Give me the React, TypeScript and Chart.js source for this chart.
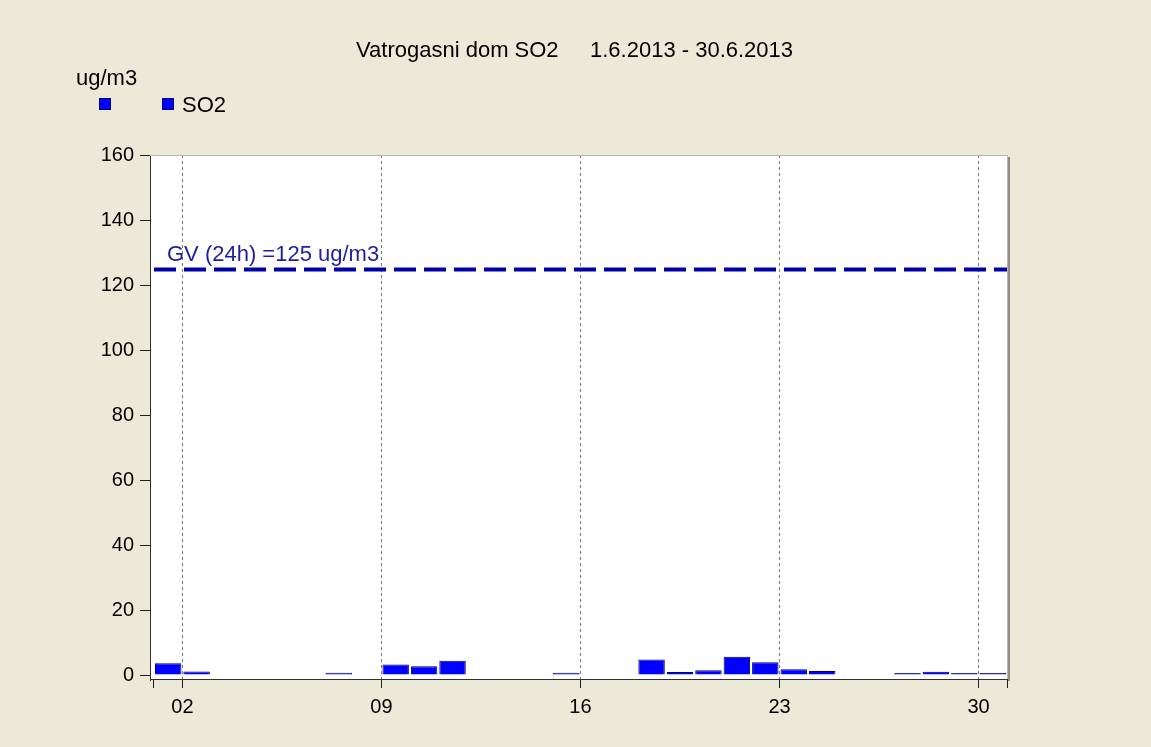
import React, { useEffect, useRef } from 'react';
import { Chart, registerables } from 'chart.js';

Chart.register(...registerables);

const titleText = 'Vatrogasni dom SO2';
const periodText = '1.6.2013 - 30.6.2013';
const unitLabel = 'ug/m3';
const seriesName = 'SO2';
const days = [1, 2, 7, 9, 10, 11, 15, 18, 19, 20, 21, 22, 23, 24, 27, 28, 29, 30];
const so2Values = [3.6, 1.1, 0.7, 3.2, 2.7, 4.4, 0.7, 4.8, 0.9, 1.5, 5.6, 3.9, 1.8, 1.2, 0.6, 1.0, 0.6, 0.6];
const xTickDays = [2, 9, 16, 23, 30];
const xEdgeDays = [1, 31];
const yTicks = [0, 20, 40, 60, 80, 100, 120, 140, 160];
const limitValue = 125;
const limitLabel = 'GV (24h) =125 ug/m3';

const FONT = "'Liberation Sans', Arial, sans-serif";

const decorPlugin = {
  id: 'decor',
  beforeDraw(chart: any) {
    const { ctx, chartArea: a } = chart;
    ctx.save();
    ctx.fillStyle = '#ECE9D8';
    ctx.fillRect(0, 0, chart.width, chart.height);
    ctx.fillStyle = '#FFFFFF';
    ctx.fillRect(a.left, a.top, a.right - a.left, a.bottom - a.top);
    ctx.restore();
  },
  afterDraw(chart: any) {
    const { ctx, chartArea: a } = chart;
    ctx.save();
    // frame
    ctx.lineWidth = 1;
    ctx.strokeStyle = '#B8B8B0';
    ctx.beginPath();
    ctx.moveTo(a.left, a.top + 0.5);
    ctx.lineTo(a.right, a.top + 0.5);
    ctx.moveTo(a.right - 0.5, a.top);
    ctx.lineTo(a.right - 0.5, a.bottom);
    ctx.stroke();
    ctx.strokeStyle = '#8E8E88';
    ctx.lineWidth = 2;
    ctx.beginPath();
    ctx.moveTo(a.right + 1, a.top + 2);
    ctx.lineTo(a.right + 1, a.bottom + 1);
    ctx.stroke();
    // x axis line
    ctx.strokeStyle = '#303030';
    ctx.lineWidth = 1;
    ctx.beginPath();
    ctx.moveTo(a.left, a.bottom - 0.5);
    ctx.lineTo(a.right, a.bottom - 0.5);
    ctx.stroke();

    // texts
    ctx.fillStyle = '#000000';
    ctx.textBaseline = 'alphabetic';
    ctx.textAlign = 'left';
    ctx.font = `22px ${FONT}`;
    ctx.fillText(titleText, 356, 57);
    ctx.fillText(periodText, 590, 57);
    ctx.fillText(unitLabel, 76, 85);
    ctx.fillText(seriesName, 182, 112);
    // legend squares
    ctx.fillStyle = '#0000FF';
    ctx.strokeStyle = '#000070';
    ctx.lineWidth = 1;
    [99.5, 162.5].forEach((x) => {
      ctx.fillRect(x, 98.5, 11, 11);
      ctx.strokeRect(x, 98.5, 11, 11);
    });
    // limit label
    const y = chart.scales.y.getPixelForValue(limitValue);
    ctx.fillStyle = '#1E1EA0';
    ctx.font = `22px ${FONT}`;
    ctx.fillText(limitLabel, 167, y - 9);
    ctx.restore();
  },
};

export default function App() {
  const ref = useRef<HTMLCanvasElement | null>(null);

  useEffect(() => {
    const canvas = ref.current;
    if (!canvas) return;
    Chart.defaults.font.family = FONT;
    const chart = new Chart(canvas, {
      type: 'bar',
      data: {
        datasets: [
          {
            type: 'bar',
            label: seriesName,
            data: days.map((d, i) => ({ x: d + 0.5, y: so2Values[i] })),
            backgroundColor: '#0000FF',
            borderColor: '#00006E',
            borderWidth: 1,
            barPercentage: 0.93,
            categoryPercentage: 1,
            order: 2,
          } as any,
          {
            type: 'line',
            label: 'GV',
            data: xEdgeDays.map((d) => ({ x: d, y: limitValue })),
            borderColor: '#0000A8',
            borderWidth: 4,
            borderDash: [22, 8],
            pointRadius: 0,
            fill: false,
            order: 1,
          } as any,
        ],
      },
      options: {
        animation: false,
        responsive: false,
        devicePixelRatio: 1,
        layout: { padding: { left: 0, top: 155, right: 143, bottom: 0 } },
        plugins: { legend: { display: false }, tooltip: { enabled: false }, title: { display: false } },
        scales: {
          x: {
            type: 'linear',
            offset: false,
            min: 0.86,
            max: 31.035,
            afterBuildTicks: (scale: any) => {
              scale.ticks = [xEdgeDays[0], ...xTickDays, xEdgeDays[1]].map((v) => ({ value: v }));
            },
            afterFit: (scale: any) => {
              scale.height = 67;
            },
            grid: {
              display: true,
              offset: false,
              drawOnChartArea: true,
              drawTicks: true,
              tickLength: 8,
              color: (c: any) => (xTickDays.includes(c.tick?.value) ? '#7A7A7A' : 'rgba(0,0,0,0)'),
              tickColor: '#202020',
              tickWidth: 1,
              lineWidth: 1,
            },
            border: { display: false, dash: [3, 3] },
            ticks: {
              autoSkip: false,
              maxRotation: 0,
              padding: 7,
              color: '#000000',
              font: { size: 20, family: FONT },
              callback: (v: any) => (xTickDays.includes(Number(v)) ? String(v).padStart(2, '0') : ''),
            },
          },
          y: {
            type: 'linear',
            min: -1.54,
            max: 160.3,
            afterBuildTicks: (scale: any) => {
              scale.ticks = yTicks.map((v) => ({ value: v }));
            },
            afterFit: (scale: any) => {
              scale.width = 150;
            },
            grid: {
              display: true,
              drawOnChartArea: false,
              drawTicks: true,
              tickLength: 10,
              tickColor: '#202020',
            },
            border: { display: true, color: '#303030', width: 1 },
            ticks: {
              padding: 6,
              color: '#000000',
              font: { size: 20, family: FONT },
              callback: (v: any) => String(v),
            },
          },
        },
      },
      plugins: [decorPlugin],
    });
    return () => chart.destroy();
  }, []);

  return (
    <div style={{ position: 'fixed', left: 0, top: 0, width: 1151, height: 747, background: '#ECE9D8' }}>
      <canvas ref={ref} width={1151} height={747} style={{ display: 'block' }} />
    </div>
  );
}
